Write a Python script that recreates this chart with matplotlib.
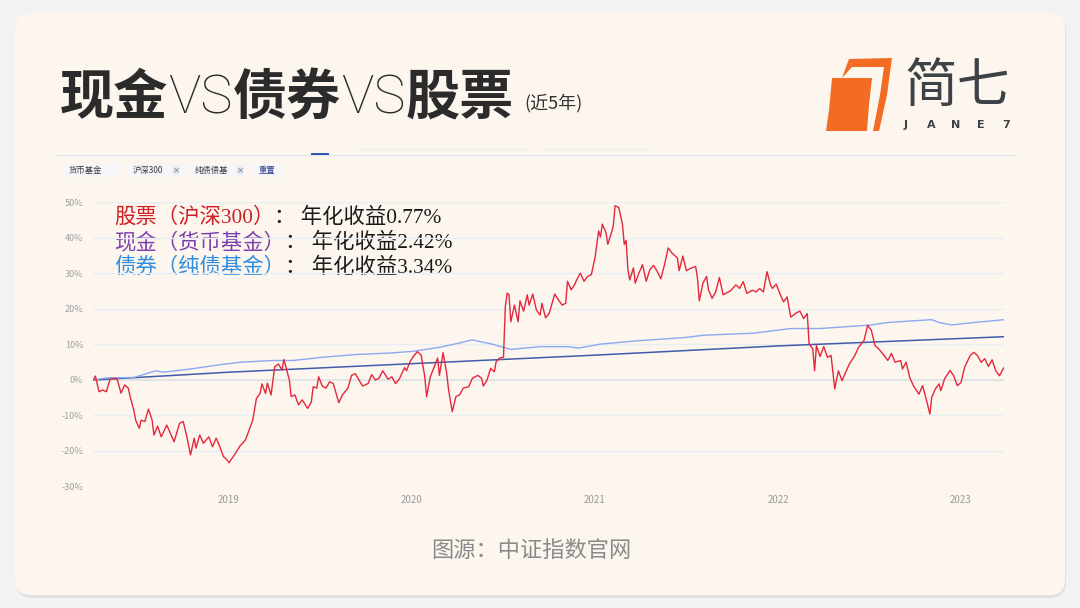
import matplotlib
matplotlib.use('Agg')
import matplotlib.pyplot as plt
from matplotlib.patches import FancyBboxPatch, Polygon, Rectangle, Circle

plt.rcParams['font.family'] = ['Noto Sans CJK SC', 'DejaVu Sans']

# cumulative return (%), t = fractional year
stock_t = [2018.26, 2018.27, 2018.29, 2018.31, 2018.33, 2018.35, 2018.38, 2018.39, 2018.41, 2018.43,
           2018.45, 2018.46, 2018.48, 2018.49, 2018.51, 2018.52, 2018.54, 2018.56, 2018.58, 2018.59,
           2018.61, 2018.63, 2018.66, 2018.68, 2018.70, 2018.73, 2018.75, 2018.77, 2018.79, 2018.81,
           2018.82, 2018.84, 2018.86, 2018.89, 2018.91, 2018.93, 2018.95, 2018.97, 2018.99, 2019.00,
           2019.03, 2019.06, 2019.09, 2019.11, 2019.13, 2019.15, 2019.17, 2019.18, 2019.20, 2019.21,
           2019.23, 2019.25, 2019.27, 2019.29, 2019.30, 2019.31, 2019.33, 2019.34, 2019.36, 2019.38,
           2019.40, 2019.43, 2019.45, 2019.46, 2019.48, 2019.49, 2019.51, 2019.53, 2019.55, 2019.57,
           2019.58, 2019.60, 2019.62, 2019.65, 2019.67, 2019.69, 2019.71, 2019.73, 2019.76, 2019.78,
           2019.80, 2019.82, 2019.84, 2019.87, 2019.89, 2019.91, 2019.93, 2019.96, 2019.97, 2019.99,
           2020.01, 2020.03, 2020.05, 2020.07, 2020.08, 2020.10, 2020.12, 2020.14, 2020.15, 2020.17,
           2020.19, 2020.20, 2020.22, 2020.24, 2020.26, 2020.28, 2020.31, 2020.33, 2020.36, 2020.38,
           2020.39, 2020.41, 2020.43, 2020.45, 2020.46, 2020.48, 2020.50, 2020.51, 2020.52, 2020.53,
           2020.54, 2020.56, 2020.58, 2020.59, 2020.61, 2020.63, 2020.64, 2020.66, 2020.68, 2020.70,
           2020.71, 2020.73, 2020.75, 2020.78, 2020.80, 2020.82, 2020.84, 2020.85, 2020.87, 2020.89,
           2020.90, 2020.92, 2020.94, 2020.96, 2020.98, 2021.00, 2021.02, 2021.03, 2021.04, 2021.06,
           2021.07, 2021.09, 2021.10, 2021.11, 2021.13, 2021.15, 2021.16, 2021.17, 2021.18, 2021.19,
           2021.21, 2021.22, 2021.24, 2021.26, 2021.28, 2021.30, 2021.32, 2021.34, 2021.36, 2021.38,
           2021.40, 2021.42, 2021.45, 2021.46, 2021.48, 2021.50, 2021.52, 2021.55, 2021.56, 2021.57,
           2021.59, 2021.61, 2021.62, 2021.64, 2021.66, 2021.68, 2021.70, 2021.74, 2021.77, 2021.79,
           2021.81, 2021.83, 2021.86, 2021.88, 2021.90, 2021.92, 2021.94, 2021.96, 2021.97, 2021.99,
           2022.01, 2022.03, 2022.05, 2022.07, 2022.10, 2022.12, 2022.14, 2022.16, 2022.17, 2022.19,
           2022.20, 2022.21, 2022.23, 2022.25, 2022.27, 2022.29, 2022.31, 2022.33, 2022.35, 2022.37,
           2022.39, 2022.42, 2022.44, 2022.47, 2022.49, 2022.51, 2022.53, 2022.55, 2022.58, 2022.60,
           2022.62, 2022.64, 2022.67, 2022.68, 2022.70, 2022.72, 2022.74, 2022.77, 2022.79, 2022.81,
           2022.83, 2022.84, 2022.86, 2022.88, 2022.89, 2022.91, 2022.94, 2022.96, 2022.98, 2023.00,
           2023.02, 2023.05, 2023.07, 2023.09, 2023.11, 2023.13, 2023.15, 2023.17, 2023.19, 2023.21,
           2023.23, 2023.24]
stock_v = [0.0, 1.1, -3.3, -2.8, -3.3, 0.2, 0.5, 0.0, -3.7, -1.4,
           -2.3, -4.7, -8.5, -11.3, -13.6, -11.3, -11.7, -8.2, -11.3, -15.5,
           -13.0, -16.0, -12.7, -15.0, -17.4, -12.2, -11.7, -16.0, -21.1, -16.4,
           -19.2, -15.5, -17.8, -16.0, -18.8, -16.4, -18.8, -21.6, -22.5, -23.3,
           -21.1, -18.6, -16.9, -14.1, -11.3, -5.2, -3.8, -1.1, -3.8, -0.9,
           -4.2, 3.7, 4.5, 2.8, 5.8, 3.9, 0.0, -4.7, -4.2, -7.0,
           -5.6, -8.0, -6.2, -1.9, -2.3, 0.9, -1.7, -2.3, -0.5, -1.0,
           -2.8, -6.4, -4.2, -2.3, 1.3, 1.8, 0.0, -1.7, -1.0, 1.5,
           0.0, 0.5, 2.6, 0.2, 0.9, -1.0, 0.2, 3.5, 2.6, 5.2,
           6.8, 8.0, 7.0, 0.9, -4.7, 0.9, 3.5, 6.2, 1.3, 7.7,
           1.8, -2.8, -8.9, -4.7, -4.2, -2.3, -1.9, 0.5, 1.3, 0.5,
           -1.7, 0.0, 3.3, 2.3, 5.2, 6.2, 6.4, 20.6, 24.5, 24.0,
           16.4, 21.1, 16.4, 22.3, 19.4, 24.0, 21.1, 24.2, 19.7, 18.3,
           21.6, 17.5, 18.8, 24.2, 22.6, 21.1, 21.6, 27.8, 25.4, 27.0,
           28.2, 30.1, 27.8, 29.2, 29.7, 34.4, 42.0, 40.3, 43.9, 41.5,
           38.2, 41.5, 43.4, 49.1, 48.6, 43.9, 38.2, 39.3, 31.1, 28.2,
           31.6, 27.3, 30.1, 32.5, 27.8, 31.1, 32.3, 30.6, 28.5, 32.5,
           37.2, 35.8, 34.4, 30.8, 34.9, 30.8, 31.4, 32.0, 28.7, 22.3,
           27.3, 29.2, 25.4, 23.0, 24.9, 28.9, 24.0, 25.1, 26.8, 25.8,
           27.7, 24.4, 25.3, 24.8, 25.8, 24.8, 30.5, 26.7, 25.8, 27.0,
           24.4, 22.0, 23.4, 17.7, 18.9, 19.4, 17.3, 18.7, 10.2, 8.8,
           2.6, 9.7, 6.6, 9.4, 6.4, 6.9, -2.5, 2.6, -0.2, 2.2,
           4.5, 6.9, 9.2, 11.1, 15.4, 14.0, 9.7, 8.8, 6.9, 5.5,
           7.5, 5.0, 5.5, 3.1, 5.0, 0.7, -1.6, -4.0, -1.6, -5.4,
           -9.6, -4.9, -2.5, -1.1, -3.0, 0.3, 2.7, 1.2, -1.6, -0.7,
           3.6, 6.9, 7.8, 6.9, 5.0, 6.0, 3.8, 5.7, 2.6, 1.2,
           3.1, 3.8]

bond_t = [2018.26, 2018.33, 2018.48, 2018.60, 2018.64, 2018.79, 2018.95, 2019.06, 2019.24, 2019.35,
          2019.51, 2019.70, 2019.88, 2020.01, 2020.15, 2020.24, 2020.33, 2020.43, 2020.54, 2020.70,
          2020.85, 2020.91, 2021.03, 2021.22, 2021.50, 2021.59, 2021.87, 2022.07, 2022.23, 2022.51,
          2022.60, 2022.84, 2022.88, 2022.95, 2023.07, 2023.24]
bond_v = [0.0, 0.6, 0.7, 2.6, 2.2, 3.1, 4.3, 5.0, 5.5, 5.5,
          6.4, 7.2, 7.6, 8.1, 9.2, 10.2, 11.3, 10.2, 8.6, 9.4,
          9.4, 9.0, 10.1, 11.0, 12.0, 12.6, 13.2, 14.5, 14.5, 15.5,
          16.2, 17.0, 16.2, 15.5, 16.2, 17.0]

cash_t = [2018.26, 2019.0, 2020.0, 2021.0, 2022.0, 2023.0, 2023.24]
cash_v = [0.0, 2.2, 4.6, 7.0, 9.6, 11.7, 12.2]

years = [2019, 2020, 2021, 2022, 2023]
y_ticks = [50, 40, 30, 20, 10, 0, -10, -20, -30]

legend_lines = [
    ('股票（沪深300）', '： 年化收益0.77%', '#cf1f24'),
    ('现金（货币基金）', '： 年化收益2.42%', '#7b3fab'),
    ('债券（纯债基金）', '： 年化收益3.34%', '#2f8de0'),
]
chips = ['货币基金', '沪深300', '纯债债基', '重置']

W, H = 1080, 608
fig = plt.figure(figsize=(W / 100, H / 100), dpi=100)
fig.patch.set_facecolor('#f2f2f2')

# background layer in pixel coordinates
bg = fig.add_axes([0, 0, 1, 1])
bg.set_xlim(0, W)
bg.set_ylim(H, 0)
bg.axis('off')
bg.add_patch(FancyBboxPatch((16, 15), 1050, 583, boxstyle='round,pad=0,rounding_size=16',
                            fc='#e2e2e2', ec='none', zorder=0))
bg.add_patch(FancyBboxPatch((15, 13), 1050, 582, boxstyle='round,pad=0,rounding_size=16',
                            fc='#fdf6ef', ec='none', zorder=1))

renderer = fig.canvas.get_renderer()


def chain(ax, x, y, parts, **kw):
    # draw text pieces one after another on one baseline
    for s, style in parts:
        t = ax.text(x, y, s, va='baseline', ha='left', zorder=5, **kw, **style)
        x += t.get_window_extent(renderer).width
    return x


# title
thin = dict(fontweight='light', family=['Roboto', 'Noto Sans CJK SC'])
chain(bg, 60, 114, [('现金', dict(fontweight='bold')), ('VS', thin),
                    ('债券', dict(fontweight='bold')), ('VS', thin),
                    ('股票', dict(fontweight='bold'))], fontsize=39, color='#2b2b2b')
bg.text(524, 108, '(近5年)', fontsize=13, color='#333333', va='baseline', zorder=5)

# logo
orange = '#f26c23'
bg.add_patch(Polygon([(849, 59), (892, 58), (887, 95), (879, 131), (873, 131), (880, 95),
                      (884, 67), (852, 67), (842, 78)], closed=True, fc=orange, ec='none', zorder=5))
bg.add_patch(Polygon([(832, 78), (872, 78), (869, 105), (867, 131), (826, 131), (829, 110)],
                     closed=True, fc=orange, ec='none', zorder=5))
bg.text(957, 86, '简七', fontsize=38, color='#3d4246', ha='center', va='center', zorder=5)
for i, ch in enumerate('JANE7'):
    bg.text(906 + i * 25, 125, ch, fontsize=8, fontweight='bold', color='#3d4246',
            ha='center', va='center', family='DejaVu Sans', zorder=5)

# tab line and filter chips
bg.plot([55, 1015], [155, 155], color='#e6e8ee', lw=1, zorder=3)
bg.add_patch(Rectangle((311, 152.5), 18, 2.5, fc='#2f55b0', ec='none', zorder=4))
bg.plot([357, 525], [149, 149], color='#eceef2', lw=1, zorder=3)
bg.plot([545, 650], [149, 149], color='#eceef2', lw=1, zorder=3)
chip_boxes = [(64, 56), (128, 55), (190, 56), (254, 29)]
for (cx, cw), label in zip(chip_boxes, chips):
    bg.add_patch(Rectangle((cx, 164), cw, 13, fc='#f5f6fa', ec='none', zorder=3))
    color = '#2a3f8f' if label == '重置' else '#3a3a3a'
    bg.text(cx + 5, 170.5, label, fontsize=6, color=color, va='center', zorder=5)
for xc in [176, 240]:
    bg.add_patch(Circle((xc, 170.5), 4, fc='#e4e7ef', ec='none', zorder=4))
    bg.text(xc, 170.5, '×', fontsize=5, color='#555555', ha='center', va='center', zorder=5)

# source
bg.text(531, 550, '图源：中证指数官网', fontsize=16, color='#8a8a8a', ha='center', va='center', zorder=5)

# chart
ax = fig.add_axes([93 / W, 1 - 486.5 / H, 911 / W, 284 / H])
ax.set_facecolor('none')
ax.plot(cash_t, cash_v, color='#3f5ba9', lw=1.1, zorder=3)
ax.plot(bond_t, bond_v, color='#8aa9f2', lw=1.0, zorder=3)
ax.plot(stock_t, stock_v, color='#e3283c', lw=1.0, zorder=4)
ax.set_xlim(2018.257, 2023.235)
ax.set_ylim(-30, 50)
ax.set_yticks(y_ticks)
ax.set_yticklabels([f'{v}%' for v in y_ticks])
ax.set_xticks(years)
ax.set_xticklabels([str(y) for y in years])
ax.yaxis.grid(True, color='#e8ecf3', lw=1)
ax.axhline(0, color='#e0e0e0', lw=1.2, zorder=1)
ax.set_axisbelow(True)
for s in ax.spines.values():
    s.set_visible(False)
ax.tick_params(axis='y', length=0, pad=7, labelsize=6.5, labelcolor='#a0a0a0')
ax.tick_params(axis='x', length=0, pad=6, labelsize=7, labelcolor='#9a9a9a')

# legend text
for i, (name, rate, color) in enumerate(legend_lines):
    yb = 223 + i * 25
    chain(bg, 114, yb, [(name, dict(color=color)), (rate, dict(color='#1a1a1a'))],
          fontsize=15.4, fontweight='light', family=['Liberation Serif', 'Noto Sans CJK SC'])

fig.savefig('out.png', dpi=100, facecolor=fig.get_facecolor())
